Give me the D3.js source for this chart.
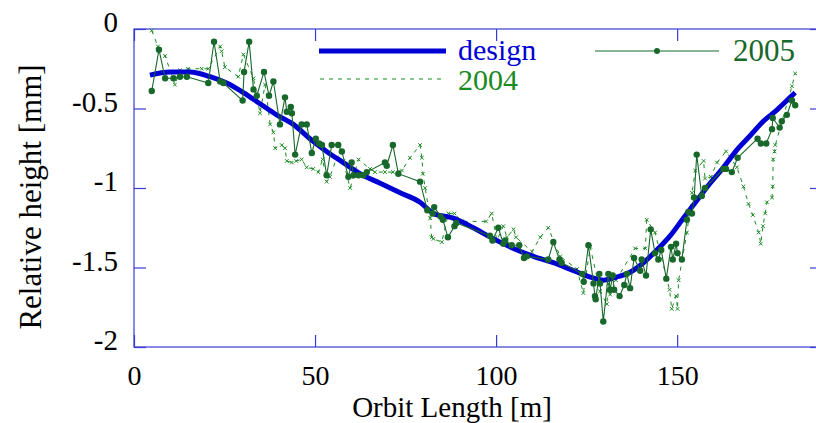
<!DOCTYPE html>
<html>
<head>
<meta charset="utf-8">
<script src="https://cdn.jsdelivr.net/npm/d3@7"></script>
<style>
  html, body { margin: 0; padding: 0; background: #fff; }
  svg { display: block; }
  text { font-family: "Liberation Serif", "Times New Roman", serif; }
</style>
</head>
<body>
<svg id="chart" width="816" height="423"></svg>
<script>
// ---------- data ----------
const xTicks = [0, 50, 100, 150];
const yTicks = [0, -0.5, -1, -1.5, -2];
const yTickLabels = ["0", "-0.5", "-1", "-1.5", "-2"];
const xTitle = "Orbit Length [m]";
const yTitle = "Relative height [mm]";
const seriesNames = ["design", "2004", "2005"];

const designX = [4.4, 9.9, 15.5, 21.0, 25.6, 30.2, 34.8, 39.4, 44.0, 48.6, 53.2, 57.8, 62.4, 68.0, 73.5, 79.0, 82.7, 88.2, 93.7, 99.3, 104.8, 110.3, 115.8, 121.4, 126.0, 129.6, 133.3, 137.0, 140.7, 144.4, 148.1, 151.7, 155.4, 159.1, 162.8, 166.5, 170.2, 173.8, 177.5, 181.2, 182.6];
const designY = [-0.29, -0.27, -0.27, -0.30, -0.34, -0.40, -0.47, -0.54, -0.60, -0.69, -0.77, -0.84, -0.91, -0.97, -1.03, -1.09, -1.16, -1.19, -1.25, -1.32, -1.38, -1.43, -1.47, -1.52, -1.56, -1.58, -1.56, -1.53, -1.47, -1.39, -1.30, -1.19, -1.08, -0.97, -0.87, -0.76, -0.67, -0.58, -0.51, -0.43, -0.40];

const y2004X = [4.9, 6.6, 8.6, 11.3, 12.7, 14.9, 18.7, 20.5, 23.8, 24.2, 25.1, 28.8, 30.2, 33.0, 34.8, 36.2, 37.6, 38.5, 39.0, 40.8, 41.7, 42.2, 43.6, 44.8, 46.3, 47.7, 49.5, 50.9, 52.1, 53.2, 54.1, 56.0, 57.8, 59.7, 62.0, 65.2, 66.6, 69.3, 71.5, 74.0, 76.2, 79.0, 79.5, 79.8, 80.4, 81.8, 82.2, 82.7, 85.0, 86.8, 88.5, 90.5, 97.2, 98.8, 100.2, 102.0, 103.0, 104.8, 105.5, 109.9, 112.2, 114.4, 117.7, 122.3, 124.1, 126.0, 128.7, 130.6, 131.0, 131.5, 133.1, 138.4, 141.2, 141.6, 143.9, 147.9, 148.5, 149.7, 150.1, 150.4, 152.7, 154.1, 155.0, 157.3, 157.7, 159.3, 161.0, 163.5, 166.5, 168.3, 169.7, 170.9, 172.5, 173.1, 173.7, 174.3, 174.8, 176.2, 176.4, 176.5, 176.9, 177.1, 181.7, 182.6];
const y2004Y = [-0.01, -0.11, -0.17, -0.35, -0.26, -0.25, -0.25, -0.25, -0.11, -0.14, -0.24, -0.30, -0.16, -0.31, -0.53, -0.35, -0.60, -0.65, -0.75, -0.73, -0.75, -0.83, -0.84, -0.83, -0.82, -0.87, -0.88, -0.90, -0.82, -0.96, -0.93, -0.81, -0.83, -1.00, -0.82, -0.88, -0.90, -0.90, -0.90, -0.89, -0.81, -0.73, -0.81, -0.91, -1.00, -1.19, -1.31, -1.32, -1.34, -1.16, -1.16, -1.21, -1.21, -1.16, -1.33, -1.24, -1.31, -1.26, -1.31, -1.40, -1.31, -1.25, -1.43, -1.51, -1.66, -1.37, -1.65, -1.73, -1.60, -1.67, -1.58, -1.38, -1.38, -1.20, -1.28, -1.64, -1.76, -1.68, -1.76, -1.58, -1.28, -1.03, -0.89, -0.83, -0.94, -0.93, -0.84, -0.77, -0.87, -0.99, -1.10, -1.17, -1.28, -1.35, -1.24, -1.16, -1.09, -1.06, -0.99, -0.82, -0.77, -0.73, -0.36, -0.28];

const y2005X = [4.9, 6.9, 8.6, 10.9, 12.7, 14.6, 20.5, 22.1, 23.8, 24.7, 30.0, 30.4, 31.8, 33.0, 33.9, 35.9, 37.3, 38.5, 40.3, 41.7, 42.2, 43.3, 43.6, 44.5, 46.3, 47.7, 49.1, 50.2, 51.1, 51.9, 53.2, 54.6, 56.4, 57.4, 59.2, 60.1, 60.6, 62.0, 63.3, 64.3, 69.3, 69.8, 71.5, 73.0, 79.0, 81.0, 82.5, 82.9, 84.7, 85.3, 86.7, 88.5, 89.0, 98.3, 99.0, 100.6, 102.0, 102.5, 104.3, 106.4, 107.7, 108.5, 114.4, 115.8, 117.5, 118.1, 123.8, 124.2, 125.5, 126.9, 127.3, 127.5, 128.5, 128.7, 129.6, 131.0, 131.5, 132.2, 132.6, 134.1, 135.4, 136.1, 137.0, 138.1, 139.8, 140.2, 141.4, 142.7, 143.9, 144.8, 145.6, 147.0, 148.3, 148.8, 149.7, 150.1, 151.3, 152.7, 153.1, 154.1, 154.7, 155.4, 156.8, 157.7, 162.8, 163.5, 165.1, 166.7, 172.2, 173.1, 174.6, 176.2, 176.4, 178.3, 178.9, 180.3, 181.7, 182.6];
const y2005Y = [-0.39, -0.13, -0.31, -0.31, -0.30, -0.30, -0.34, -0.08, -0.33, -0.34, -0.45, -0.27, -0.08, -0.38, -0.42, -0.27, -0.42, -0.33, -0.60, -0.43, -0.52, -0.49, -0.53, -0.79, -0.60, -0.60, -0.78, -0.69, -0.72, -0.73, -0.92, -0.73, -0.73, -0.77, -0.93, -0.84, -0.92, -0.92, -0.92, -0.90, -0.84, -0.86, -0.73, -0.91, -0.96, -1.14, -1.16, -1.12, -1.18, -1.20, -1.31, -1.24, -1.22, -1.30, -1.33, -1.25, -1.35, -1.33, -1.36, -1.36, -1.44, -1.43, -1.45, -1.34, -1.45, -1.47, -1.54, -1.59, -1.36, -1.60, -1.68, -1.70, -1.54, -1.60, -1.84, -1.54, -1.64, -1.55, -1.64, -1.68, -1.61, -1.54, -1.63, -1.44, -1.52, -1.45, -1.55, -1.26, -1.41, -1.45, -1.39, -1.57, -1.37, -1.45, -1.35, -1.41, -1.45, -1.20, -1.15, -1.16, -1.06, -0.79, -1.05, -1.00, -0.88, -0.88, -0.90, -0.81, -0.69, -0.72, -0.72, -0.63, -0.56, -0.62, -0.58, -0.54, -0.45, -0.48];

// ---------- drawing ----------
const svg = d3.select("#chart");
const frameColor = "#3a3ad4";
const designColor = "#0000d2";
const c2004 = "#1a8a22";
const c2005 = "#17682a";

const x = d3.scaleLinear().domain([0, 190]).range([134, 822]);
const y = d3.scaleLinear().domain([-2, 0]).range([347, 29]);

const zip = (xs, ys) => xs.map((v, i) => [v, ys[i]]);
const design = zip(designX, designY);
const d2004 = zip(y2004X, y2004Y);
const d2005 = zip(y2005X, y2005Y);

// frame
svg.append("rect")
  .attr("x", x(0)).attr("y", y(0))
  .attr("width", x(190) - x(0)).attr("height", y(-2) - y(0))
  .attr("fill", "none").attr("stroke", frameColor).attr("stroke-width", 1.2);

function styleAxis(g) {
  g.select(".domain").remove();
  g.selectAll(".tick line").attr("stroke", frameColor).attr("stroke-width", 1.2);
  g.selectAll("text").attr("font-family", "Liberation Serif, serif").attr("font-size", 29).attr("fill", "#000");
}

// left axis
svg.append("g").attr("transform", `translate(${x(0)},0)`)
  .call(d3.axisLeft(y).tickValues(yTicks).tickSizeInner(-12).tickSizeOuter(0).tickPadding(16)
    .tickFormat((d, i) => yTickLabels[i]))
  .call(styleAxis)
  .call(g => g.selectAll("text").attr("dy", "0.1em"));

// right axis (ticks only)
svg.append("g").attr("transform", `translate(${x(190)},0)`)
  .call(d3.axisRight(y).tickValues(yTicks).tickSizeInner(-12).tickSizeOuter(0).tickFormat(""))
  .call(styleAxis);

// bottom axis
svg.append("g").attr("transform", `translate(0,${y(-2)})`)
  .call(d3.axisBottom(x).tickValues(xTicks).tickSizeInner(-12).tickSizeOuter(0).tickPadding(18)
    .tickFormat(d3.format("d")))
  .call(styleAxis)
  .call(g => g.selectAll("text").attr("font-size", 28));

// top axis (ticks only)
svg.append("g").attr("transform", `translate(0,${y(0)})`)
  .call(d3.axisTop(x).tickValues(xTicks).tickSizeInner(-12).tickSizeOuter(0).tickFormat(""))
  .call(styleAxis);

// axis titles
svg.append("text")
  .attr("x", 452).attr("y", 417)
  .attr("text-anchor", "middle").attr("font-size", 29).attr("fill", "#000")
  .text(xTitle);
svg.append("text")
  .attr("transform", "translate(41,197) rotate(-90)")
  .attr("text-anchor", "middle").attr("font-size", 31).attr("fill", "#000")
  .text(yTitle);

const line = d3.line().x(d => x(d[0])).y(d => y(d[1]));

// 2004 dashed with small cross markers
svg.append("path").datum(d2004)
  .attr("d", line).attr("fill", "none")
  .attr("stroke", c2004).attr("stroke-width", 1).attr("stroke-dasharray", "4,5");
svg.append("g").selectAll("path").data(d2004).join("path")
  .attr("d", d => `M${x(d[0]) - 1.8},${y(d[1]) - 1.8}L${x(d[0]) + 1.8},${y(d[1]) + 1.8}M${x(d[0]) - 1.8},${y(d[1]) + 1.8}L${x(d[0]) + 1.8},${y(d[1]) - 1.8}`)
  .attr("stroke", c2004).attr("stroke-width", 1).attr("fill", "none");

// design
svg.append("path").datum(design)
  .attr("d", d3.line().x(d => x(d[0])).y(d => y(d[1])).curve(d3.curveMonotoneX)).attr("fill", "none")
  .attr("stroke", designColor).attr("stroke-width", 5).attr("stroke-linejoin", "round");

// 2005 solid with dots
svg.append("path").datum(d2005)
  .attr("d", line).attr("fill", "none")
  .attr("stroke", c2005).attr("stroke-width", 1.1);
svg.append("g").selectAll("circle").data(d2005).join("circle")
  .attr("cx", d => x(d[0])).attr("cy", d => y(d[1])).attr("r", 3.2)
  .attr("fill", c2005);

// legend
const leg = svg.append("g");
leg.append("line").attr("x1", 319).attr("x2", 446).attr("y1", 51).attr("y2", 51)
  .attr("stroke", designColor).attr("stroke-width", 5);
leg.append("text").attr("x", 458).attr("y", 60).attr("font-size", 30).attr("fill", designColor).text(seriesNames[0]);
leg.append("line").attr("x1", 320).attr("x2", 443).attr("y1", 79).attr("y2", 79)
  .attr("stroke", c2004).attr("stroke-width", 1).attr("stroke-dasharray", "4,5");
leg.append("text").attr("x", 458).attr("y", 90).attr("font-size", 30).attr("fill", c2004).text(seriesNames[1]);
leg.append("line").attr("x1", 595).attr("x2", 719).attr("y1", 51).attr("y2", 51)
  .attr("stroke", c2005).attr("stroke-width", 1.1);
leg.append("circle").attr("cx", 657).attr("cy", 51).attr("r", 3).attr("fill", c2005);
leg.append("text").attr("x", 733).attr("y", 61).attr("font-size", 31).attr("fill", c2005).text(seriesNames[2]);
</script>
</body>
</html>
